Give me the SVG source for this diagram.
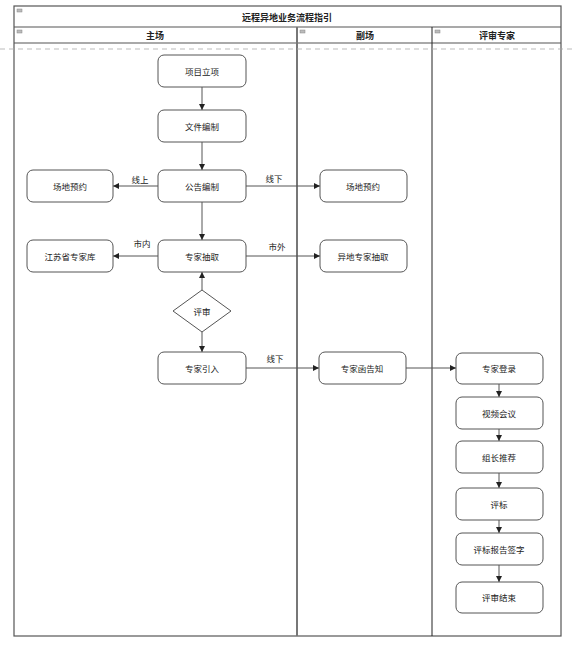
<svg xmlns="http://www.w3.org/2000/svg" width="574" height="646" viewBox="0 0 574 646">
<style>
.t{font-family:"Noto Sans CJK SC","Liberation Sans",sans-serif;font-size:8.5px;fill:#222;text-anchor:middle;dominant-baseline:central}
.h{font-family:"Noto Sans CJK SC","Liberation Sans",sans-serif;font-size:9px;font-weight:bold;fill:#222;text-anchor:middle;dominant-baseline:central}
.box{fill:#fff;stroke:#555;stroke-width:1}
.ln{fill:none;stroke:#555;stroke-width:1}
.lane{fill:none;stroke:#555;stroke-width:1.2}
.ic{fill:#bbb;stroke:#888;stroke-width:0.5}
</style>
<defs>
<marker id="ah" markerWidth="6" markerHeight="6" refX="6" refY="3" orient="auto" markerUnits="userSpaceOnUse">
<path d="M0,0 L6,3 L0,6 Z" fill="#222"/>
</marker>
</defs>
<rect width="574" height="646" fill="#fff"/>
<g id="pool">
<rect x="14" y="6" width="547" height="630" class="lane"/>
<line x1="14" y1="27" x2="561" y2="27" class="lane"/>
<line x1="14" y1="43" x2="561" y2="43" class="lane"/>
<line x1="297" y1="27" x2="297" y2="636" stroke="#777" stroke-width="2"/>
<line x1="432" y1="27" x2="432" y2="636" stroke="#222" stroke-width="1"/>
<line x1="0" y1="49" x2="574" y2="49" stroke="#aaa" stroke-width="0.8" stroke-dasharray="5,4"/>
<rect x="17" y="9" width="5" height="3" class="ic"/>
<rect x="17" y="30" width="5" height="3" class="ic"/>
<rect x="300" y="30" width="5" height="3" class="ic"/>
<rect x="435" y="30" width="5" height="3" class="ic"/>
<text x="287" y="17" class="h">远程异地业务流程指引</text>
<text x="155" y="35" class="h">主场</text>
<text x="365" y="35" class="h">副场</text>
<text x="497" y="35" class="h">评审专家</text>
</g>
<g id="connectors">
<line x1="202" y1="87" x2="202" y2="110" class="ln" marker-end="url(#ah)"/>
<line x1="202" y1="142" x2="202" y2="170" class="ln" marker-end="url(#ah)"/>
<line x1="158" y1="186" x2="113" y2="186" class="ln" marker-end="url(#ah)"/>
<line x1="246" y1="186" x2="320" y2="186" class="ln" marker-end="url(#ah)"/>
<line x1="202" y1="202" x2="202" y2="240" class="ln" marker-end="url(#ah)"/>
<line x1="158" y1="256" x2="113" y2="256" class="ln" marker-end="url(#ah)"/>
<line x1="246" y1="256" x2="320" y2="256" class="ln" marker-end="url(#ah)"/>
<line x1="202" y1="290" x2="202" y2="272" class="ln" marker-end="url(#ah)"/>
<line x1="202" y1="332" x2="202" y2="352" class="ln" marker-end="url(#ah)"/>
<line x1="246" y1="368" x2="319" y2="368" class="ln" marker-end="url(#ah)"/>
<line x1="406" y1="368" x2="456" y2="368" class="ln" marker-end="url(#ah)"/>
<line x1="499" y1="384" x2="499" y2="397" class="ln" marker-end="url(#ah)"/>
<line x1="499" y1="429" x2="499" y2="441" class="ln" marker-end="url(#ah)"/>
<line x1="499" y1="473" x2="499" y2="488" class="ln" marker-end="url(#ah)"/>
<line x1="499" y1="520" x2="499" y2="533" class="ln" marker-end="url(#ah)"/>
<line x1="499" y1="565" x2="499" y2="582" class="ln" marker-end="url(#ah)"/>
<text x="140" y="179" class="t">线上</text>
<text x="274" y="178" class="t">线下</text>
<text x="142" y="243" class="t">市内</text>
<text x="277" y="246" class="t">市外</text>
<text x="275" y="358" class="t">线下</text>
</g>
<g id="n1"><rect x="158" y="55" width="88" height="32" rx="6" class="box"/><text x="202" y="71" class="t">项目立项</text></g>
<g id="n2"><rect x="158" y="110" width="88" height="32" rx="6" class="box"/><text x="202" y="126" class="t">文件编制</text></g>
<g id="n3"><rect x="158" y="170" width="88" height="32" rx="6" class="box"/><text x="202" y="186" class="t">公告编制</text></g>
<g id="n4"><rect x="27" y="170" width="86" height="32" rx="6" class="box"/><text x="70" y="186" class="t">场地预约</text></g>
<g id="n5"><rect x="320" y="170" width="87" height="32" rx="6" class="box"/><text x="363" y="186" class="t">场地预约</text></g>
<g id="n6"><rect x="158" y="240" width="88" height="32" rx="6" class="box"/><text x="202" y="256" class="t">专家抽取</text></g>
<g id="n7"><rect x="27" y="240" width="86" height="32" rx="6" class="box"/><text x="70" y="256" class="t">江苏省专家库</text></g>
<g id="n8"><rect x="320" y="240" width="87" height="32" rx="6" class="box"/><text x="363" y="256" class="t">异地专家抽取</text></g>
<g id="n9"><polygon points="202,290 231,311 202,332 173,311" class="box"/><text x="202" y="311" class="t">评审</text></g>
<g id="n10"><rect x="158" y="352" width="88" height="32" rx="6" class="box"/><text x="202" y="368" class="t">专家引入</text></g>
<g id="n11"><rect x="319" y="352" width="87" height="32" rx="6" class="box"/><text x="362" y="368" class="t">专家函告知</text></g>
<g id="n12"><rect x="456" y="353" width="87" height="31" rx="6" class="box"/><text x="499" y="368" class="t">专家登录</text></g>
<g id="n13"><rect x="456" y="397" width="87" height="32" rx="6" class="box"/><text x="499" y="413" class="t">视频会议</text></g>
<g id="n14"><rect x="456" y="441" width="87" height="32" rx="6" class="box"/><text x="499" y="457" class="t">组长推荐</text></g>
<g id="n15"><rect x="456" y="488" width="87" height="32" rx="6" class="box"/><text x="499" y="504" class="t">评标</text></g>
<g id="n16"><rect x="456" y="533" width="87" height="32" rx="6" class="box"/><text x="499" y="549" class="t">评标报告签字</text></g>
<g id="n17"><rect x="456" y="582" width="87" height="31" rx="6" class="box"/><text x="499" y="597" class="t">评审结束</text></g>
</svg>
